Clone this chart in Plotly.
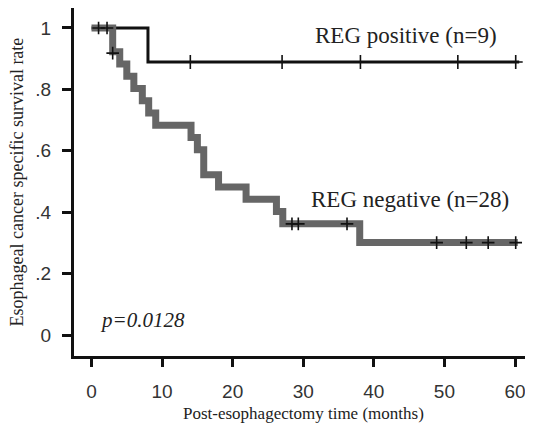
import plotly.graph_objects as go

# ---- data ----
pos_times = [0, 8.0, 60.6]
pos_surv = [1.0, 0.889, 0.889]
pos_cens_t = [14.0, 27.0, 38.1, 51.9, 60.1]
pos_cens_s = [0.889, 0.889, 0.889, 0.889, 0.889]

neg_times = [0, 3.0, 4.0, 5.0, 6.0, 7.2, 8.1, 9.1, 14.1, 15.0, 15.9, 18.0, 21.9, 26.2, 27.1, 38.0, 60.4]
neg_surv = [1.0, 0.923, 0.883, 0.843, 0.803, 0.763, 0.723, 0.683, 0.643, 0.603, 0.522, 0.482, 0.442, 0.402, 0.362, 0.301, 0.301]
neg_cens_t = [1.0, 2.2, 3.0, 28.4, 29.3, 36.2, 48.9, 53.1, 56.2, 60.1]
neg_cens_s = [1.0, 1.0, 0.918, 0.362, 0.362, 0.362, 0.301, 0.301, 0.301, 0.301]

x_ticks = [0, 10, 20, 30, 40, 50, 60]
y_ticks = [0, 0.2, 0.4, 0.6, 0.8, 1.0]
y_tick_text = ["0", ".2", ".4", ".6", ".8", "1"]

labels = ["REG positive (n=9)", "REG negative (n=28)"]
p_text = "p=0.0128"
x_title = "Post-esophagectomy time (months)"
y_title = "Esophageal cancer specific survival rate"

SERIF = "Liberation Serif, Times New Roman, serif"
SANS = "Liberation Sans, Arial, sans-serif"

fig = go.Figure()
fig.add_trace(go.Scatter(x=pos_times, y=pos_surv, mode="lines", line_shape="hv",
                         line=dict(color="#111111", width=3), showlegend=False, hoverinfo="skip"))
fig.add_trace(go.Scatter(x=neg_times, y=neg_surv, mode="lines", line_shape="hv",
                         line=dict(color="#666666", width=7), showlegend=False, hoverinfo="skip"))
fig.add_trace(go.Scatter(x=pos_cens_t, y=pos_cens_s, mode="markers",
                         marker=dict(symbol="cross-thin", size=10, line=dict(color="#111111", width=1.6)),
                         showlegend=False, hoverinfo="skip"))
fig.add_trace(go.Scatter(x=neg_cens_t, y=neg_cens_s, mode="markers",
                         marker=dict(symbol="cross-thin", size=9, line=dict(color="#111111", width=1.6)),
                         showlegend=False, hoverinfo="skip"))

fig.add_annotation(x=31.4, y=0.977, text=labels[0], showarrow=False, xanchor="left", yanchor="middle",
                   font=dict(family=SERIF, size=23, color="#222222"))
fig.add_annotation(x=30.8, y=0.44, text=labels[1], showarrow=False, xanchor="left", yanchor="middle",
                   font=dict(family=SERIF, size=23, color="#222222"))
fig.add_annotation(x=0.9, y=0.049, text="<i>" + p_text + "</i>", showarrow=False, xanchor="left", yanchor="middle",
                   font=dict(family=SERIF, size=21, color="#222222"))
fig.add_annotation(xref="paper", yref="paper", x=0.5, y=0, yanchor="middle", yshift=-57,
                   text=x_title, showarrow=False, font=dict(family=SERIF, size=17, color="#222222"))
fig.add_annotation(xref="paper", yref="paper", x=0, y=0.5, xanchor="center", xshift=-57.5,
                   textangle=-90, text=y_title, showarrow=False,
                   font=dict(family=SERIF, size=18, color="#222222"))

# page body has an 8px margin, so the figure is 8px smaller and everything shifted accordingly
fig.update_layout(
    width=525, height=416,
    margin=dict(l=66, r=0, t=0, b=68),
    paper_bgcolor="white", plot_bgcolor="white",
    xaxis=dict(range=[-2.48, 62.55], tickvals=x_ticks, showgrid=False, zeroline=False,
               showline=True, linecolor="#111111", linewidth=3,
               ticks="outside", ticklen=8, tickwidth=3, tickcolor="#111111",
               ticklabelstandoff=8,
               tickfont=dict(family=SANS, size=19, color="#333333")),
    yaxis=dict(range=[-0.0684, 1.0651], tickvals=y_ticks, ticktext=y_tick_text, showgrid=False, zeroline=False,
               showline=True, linecolor="#111111", linewidth=3,
               ticks="outside", ticklen=9, tickwidth=3, tickcolor="#111111",
               ticklabelstandoff=7,
               tickfont=dict(family=SANS, size=19, color="#333333")),
)

fig.write_html("out.html")
